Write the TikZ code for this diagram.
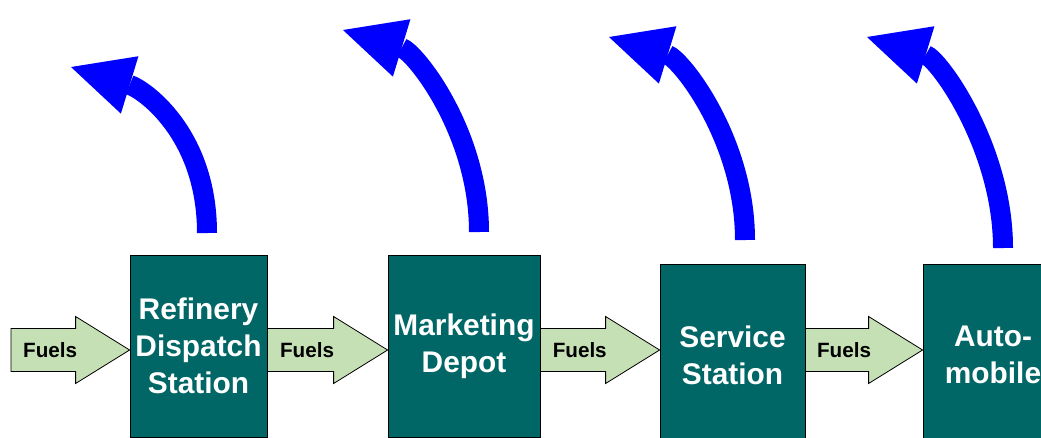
\documentclass[tikz,border=0pt]{standalone}
\usepackage{fontspec}
\setmainfont{Liberation Sans}
\usetikzlibrary{arrows.meta, calc}
\definecolor{boxteal}{RGB}{0,102,102}
\definecolor{fuelgreen}{RGB}{197,224,180}

\begin{document}
\begin{tikzpicture}[
    x=0.75pt, y=-0.75pt,
    every node/.style={font=\bfseries},
    stage/.style={rectangle,draw=black,line width=0.6pt,fill=boxteal,text=white,align=center,inner sep=0pt,minimum height=136.5pt,font=\fontsize{22.4}{27.8}\selectfont\bfseries},
    fuel/.style={draw=black,line width=0.6pt,fill=fuelgreen,line join=miter},
    fuellabel/.style={font=\fontsize{15.5}{18}\selectfont\bfseries},
    loss/.style={draw=blue,line width=15pt,-{Triangle[length=46pt,width=45pt,line width=0pt]}}
  ]
    \useasboundingbox (0,0) rectangle (1041,437);

    % Stage boxes
    \node[stage,minimum width=102.75pt] (refinery) at (198.5,346) {Refinery\\Dispatch\\Station};
    \node[stage,minimum width=114pt] (depot) at (464,346) {Marketing\\Depot};
    \node[stage,minimum width=108.75pt] (station) at (732.5,355) {Service\\Station};
    \node[stage,minimum width=105pt] (auto) at (993,355) {Auto-\\mobile};

    % Fuel flow arrows
    \coordinate (in) at (11,350);
    \foreach \a/\b/\n in {in/refinery.west/1, refinery.east/depot.west/2, depot.east/station.west/3, station.east/auto.west/4} {
      \coordinate (s) at (\a |- 0,350);
      \coordinate (t) at (\b |- 0,350);
      \draw[fuel] ($(s)+(0,-21.5)$) -- ($(t)+(-54,-21.5)$) -- ($(t)+(-54,-33.5)$) -- (t)
        -- ($(t)+(-54,33.5)$) -- ($(t)+(-54,21.5)$) -- ($(s)+(0,21.5)$) -- cycle;
      \path (s) -- (t) node[fuellabel,pos=0.33] (fuels\n) {Fuels};
    }

    % Loss arrows
    \coordinate (b1) at (207,233);
    \coordinate (h1) at (71,67);
    \coordinate (b2) at (479,232);
    \coordinate (h2) at (343,30);
    \coordinate (b3) at (745,240);
    \coordinate (h3) at (609,37);
    \coordinate (b4) at (1003,248);
    \coordinate (h4) at (867,37);
    \foreach \n in {1,...,4}
      \draw[loss] (b\n) .. controls +(0,-100) and +(72,22) .. (h\n);
\end{tikzpicture}
\end{document}
